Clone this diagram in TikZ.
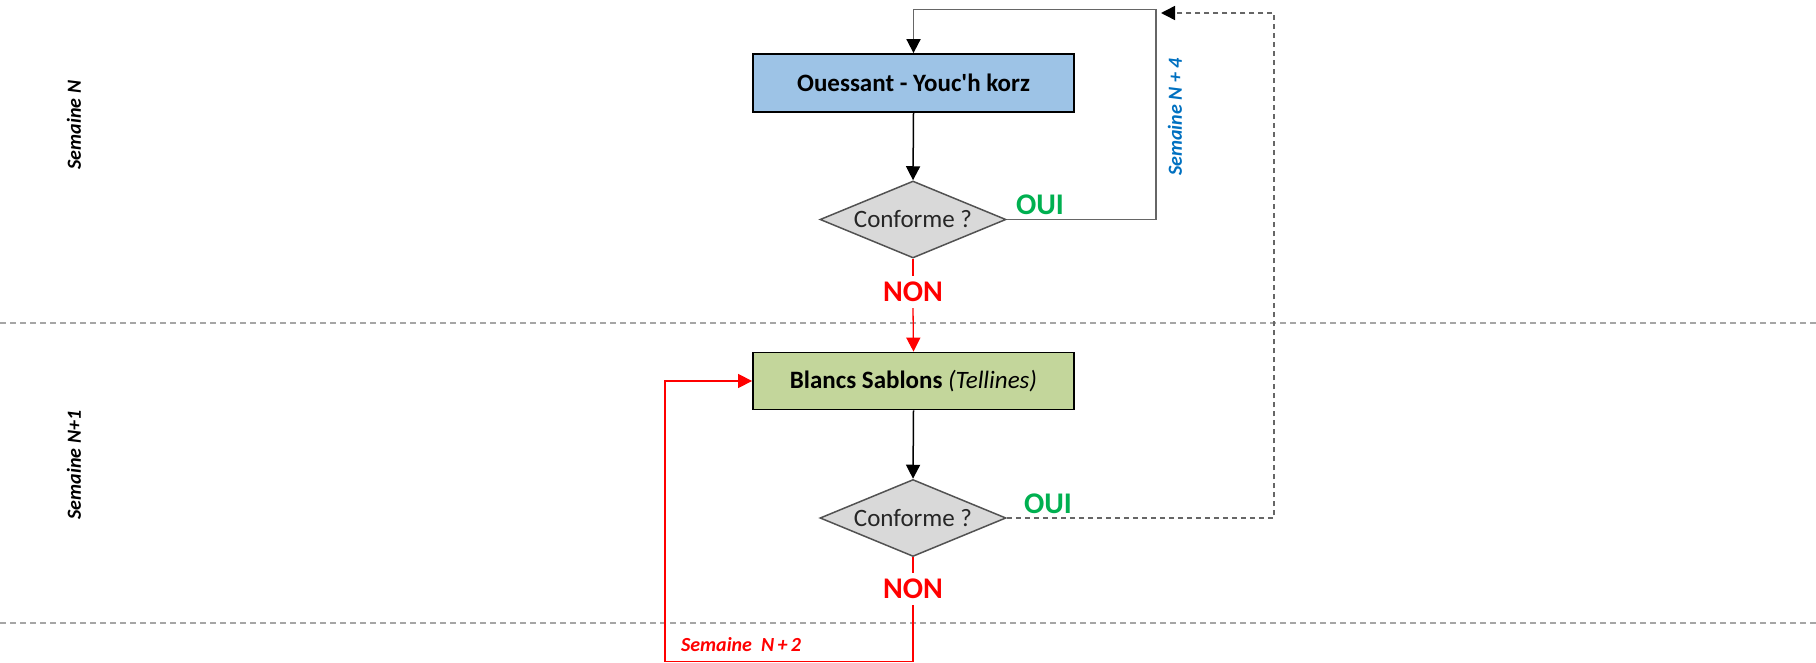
\documentclass[tikz,border=0pt]{standalone}
\usepackage{fontspec}
\setmainfont{Carlito}
\usetikzlibrary{shapes.geometric,arrows.meta}
\definecolor{boxblue}{HTML}{9DC3E6}
\definecolor{boxgreen}{HTML}{C3D69B}
\definecolor{diagray}{HTML}{D9D9D9}
\definecolor{ouigreen}{HTML}{00B050}
\definecolor{nonred}{HTML}{FF0000}
\definecolor{labblue}{HTML}{0070C0}
\definecolor{sepgray}{HTML}{A6A6A6}
\definecolor{linegray}{HTML}{666666}
\begin{document}
\begin{tikzpicture}[x=1pt,y=-1pt,
  procbox/.style={draw=black,line width=1.8pt,minimum width=321pt,minimum height=58pt,inner sep=0pt,font=\fontsize{25}{30}\selectfont},
  decision/.style={diamond,aspect=2.42,draw=linegray!80!black,line width=1.5pt,fill=diagray,minimum width=186pt,minimum height=77pt,inner sep=0pt,font=\fontsize{25}{30}\selectfont,text=black!85},
  tipstyle/.style={-{Triangle[length=14pt,width=14pt,color=black]}},
  flow/.style={line width=1.5pt,black,tipstyle},
  graylink/.style={line width=1.8pt,linegray,tipstyle},
  dashlink/.style={line width=1.5pt,linegray,dash pattern=on 5pt off 4pt,tipstyle},
  redline/.style={line width=1.3pt,nonred},
  redflow/.style={line width=1.3pt,nonred,-{Triangle[length=14pt,width=14pt]}},
  separator/.style={line width=1.3pt,sepgray,dash pattern=on 6pt off 4pt},
  answyes/.style={font=\fontsize{30}{36}\selectfont\bfseries,text=ouigreen,inner sep=0pt},
  answno/.style={font=\fontsize{30}{36}\selectfont\bfseries,text=nonred,inner ysep=6pt,inner xsep=2pt},
  weeklab/.style={font=\fontsize{20}{24}\selectfont\bfseries\itshape,inner sep=0pt}
]
\useasboundingbox (0,0) rectangle (1816,663);

% separators
\coordinate (s1l) at (0,323);
\coordinate (s1r) at (1816,323);
\coordinate (s2l) at (0,623);
\coordinate (s2r) at (1816,623);
\draw[separator] (s1l) -- (s1r);
\draw[separator] (s2l) -- (s2r);

% week labels
\node[weeklab,rotate=90] (wN) at (74,125) {Semaine N};
\node[weeklab,rotate=90] (wN1) at (74,465) {Semaine N+1};

% nodes
\node[procbox,fill=boxblue] (b1) at (913.5,83) {\bfseries Ouessant - Youc\textquotesingle h korz};
\node[decision] (d1) at (913,219.5) {Conforme ?};
\node[answno] (non1) at (913,292) {NON};
\node[procbox,fill=boxgreen,minimum height=57pt] (b2) at (913.5,381) {\textbf{Blancs Sablons} \textit{(Tellines)}};
\node[decision] (d2) at (913,518) {Conforme ?};
\node[answno] (non2) at (913,589) {NON};

\node[answyes] (oui1) at (1040,205) {OUI};
\node[answyes] (oui2) at (1048,504) {OUI};

\node[weeklab,rotate=90,text=labblue] (wN4) at (1175,117) {Semaine N + 4};
\node[weeklab,text=nonred] (wN2) at (741,645) {Semaine\ \ N\,+\,2};

% coordinates for bends
\coordinate (tr) at (1156,9.5);
\coordinate (dr) at (1274,13);
\coordinate (n4tip) at (1161,13);
\coordinate (rb) at (913,661.5);
\coordinate (lb) at (665,661.5);
\coordinate (lt) at (665,381);

% connectors
\draw[flow] (b1.south) -- (d1.north);
\draw[graylink] (d1.east) -| (tr) -| (b1.north);
\draw[redline] (d1.south) -- (non1.north);
\draw[redflow] (non1.south) -- (b2.north);
\draw[flow] (b2.south) -- (d2.north);
\draw[dashlink] (d2.east) -| (dr) -- (n4tip);
\draw[redline] (d2.south) -- (non2.north);
\draw[redflow] (non2.south) -- (rb) -- (lb) -- (lt) -- (b2.west);
\end{tikzpicture}
\end{document}
